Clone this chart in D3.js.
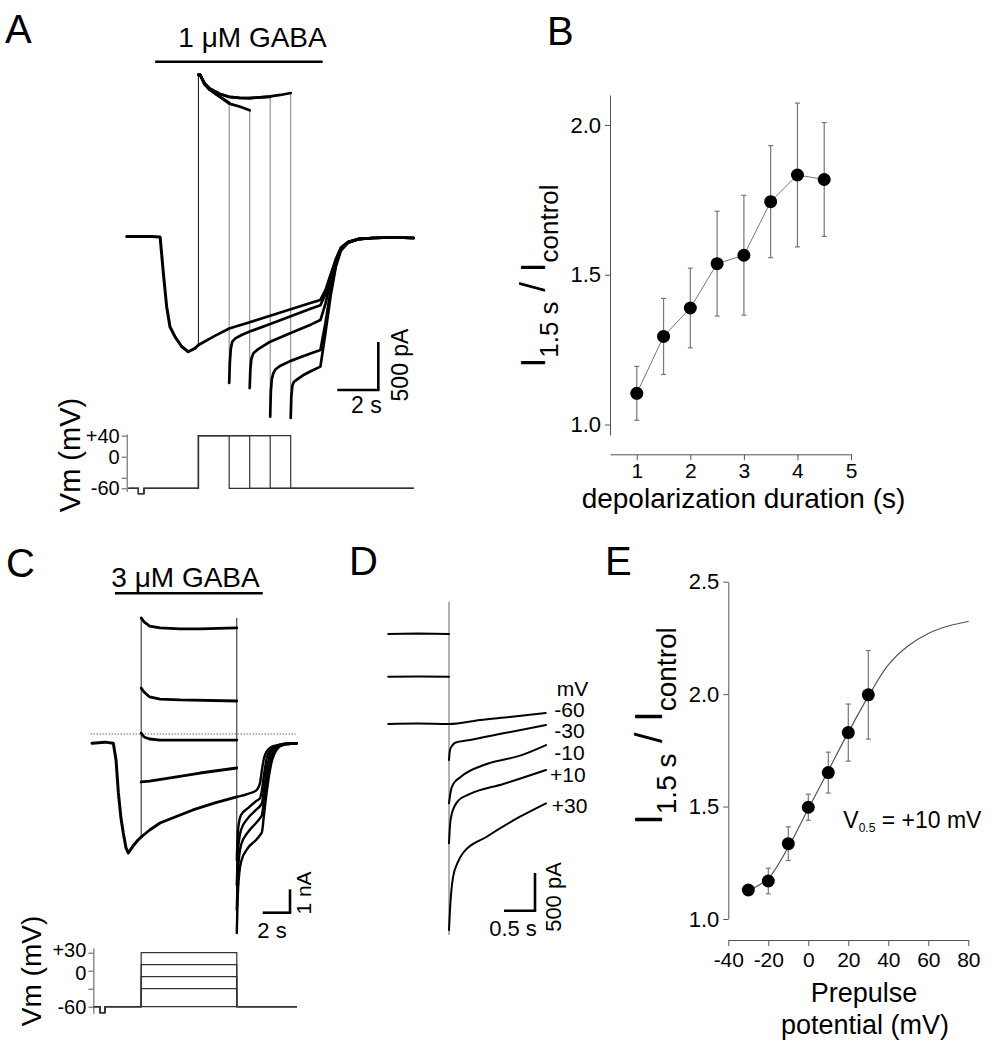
<!DOCTYPE html>
<html>
<head>
<meta charset="utf-8">
<script src="https://cdn.jsdelivr.net/npm/d3@7/dist/d3.min.js"></script>
<style>
  html,body{margin:0;padding:0;background:#fff;}
  svg{display:block;}
  text{font-family:"Liberation Sans",Arial,Helvetica,sans-serif;fill:#000;}
</style>
</head>
<body>
<svg id="fig" width="1005" height="1050"></svg>
<script>
// ======================= DATA =======================
// ---- Panel A : 1 uM GABA, time (s) / current (pA)
const aGabaOn = 1.39, aGabaOff = 9.56;
const aPreT = [0, 0.6, 1.2, 1.63, 1.79, 1.95, 2.11, 2.36, 2.68, 3.0, 3.33, 3.5];
const aPreI = [15, 15, 15, 10, -370, -715, -925, -1030, -1130, -1185, -1150, -1115];
const aCtrlT = [3.5, 4.3, 5.0, 6.0, 7.0, 8.0, 9.0, 9.45];
const aCtrlI = [-1115, -1020, -943, -877, -810, -743, -675, -645];
const aStepStart = 3.5;
const aStepEnds = [5, 6, 7, 8];
const aOnT = [
  [3.5, 3.58, 3.8, 4.06, 4.55, 5.0],
  [3.5, 3.58, 3.8, 4.06, 4.55, 5.0, 5.5, 6.0],
  [3.5, 3.58, 3.8, 4.06, 4.55, 5.0, 5.5, 6.0, 6.5, 7.0],
  [3.5, 3.58, 3.8, 4.06, 4.55, 5.0, 5.5, 6.0, 6.5, 7.0, 7.5, 8.0]
];
const aOnI = [
  [1700, 1700, 1600, 1542, 1470, 1410],
  [1700, 1700, 1600, 1542, 1470, 1400, 1370, 1330],
  [1700, 1700, 1610, 1555, 1500, 1470, 1460, 1458, 1465, 1470],
  [1700, 1700, 1610, 1555, 1500, 1470, 1460, 1458, 1465, 1475, 1490, 1510]
];
const aTailT = [
  [5.0, 5.03, 5.08, 5.15, 5.3, 5.6, 6, 7, 8, 9, 9.45],
  [6.0, 6.03, 6.08, 6.18, 6.4, 7, 8, 9, 9.45],
  [7.0, 7.03, 7.08, 7.15, 7.25, 7.5, 8, 8.5, 9, 9.45],
  [8.0, 8.03, 8.08, 8.15, 8.3, 8.6, 9, 9.45]
];
const aTailI = [
  [-1510, -1300, -1150, -1080, -1045, -1010, -975, -895, -815, -735, -700],
  [-1563, -1380, -1260, -1200, -1160, -1080, -990, -900, -855],
  [-1861, -1600, -1470, -1410, -1370, -1330, -1280, -1240, -1200, -1167],
  [-1875, -1650, -1540, -1500, -1475, -1430, -1385, -1340]
];
const aWashT = [9.45, 9.7, 9.95, 10.2, 10.45, 10.8, 11.3, 12, 13, 14];
const aWashCtrl = [-645, -540, -380, -220, -100, -40, -10, 0, 5, 0];
const aWashI = [
  [-700, -580, -400, -230, -105, -42, -10, 0, 5, 0],
  [-855, -680, -450, -250, -110, -45, -12, 0, 5, 0],
  [-1167, -880, -540, -280, -120, -48, -12, 0, 5, 0],
  [-1340, -980, -600, -300, -130, -50, -14, 0, 5, 0]
];
// Vm protocol A (mV)
const aVmHold = -60, aVmPulse = -70, aVmStep = 40;
const aVmPulseT = [0.57, 0.84];
const aVmEnd = 14;
const aVmTicks = [40, 0, -40, -60];
const aVmTickLabels = ["+40", "0", "", "-60"];

// ---- Panel B
const bX = [1, 1.5, 2, 2.5, 3, 3.5, 4, 4.5];
const bY = [1.104, 1.294, 1.389, 1.537, 1.565, 1.744, 1.833, 1.818];
const bErr = [0.09, 0.127, 0.133, 0.175, 0.2, 0.187, 0.24, 0.19];
const bXTicks = [1, 2, 3, 4, 5];
const bYTicks = [1.0, 1.5, 2.0];

// ---- Panel C : 3 uM GABA, time (s) / current (pA)
const cGabaOn = 1.68, cGabaOff = 12.5;
const cDottedLevel = 400;
const cPreT = [0, 0.95, 1.56, 1.76, 1.93, 2.12, 2.29, 2.49, 2.66, 3.0, 3.37, 3.6];
const cPreI = [0, 50, 0, -720, -2130, -3210, -3850, -4490, -4710, -4410, -4150, -4020];
const cStepStart = 3.6, cStepEnd = 10.6;
const cStepV = [-60, -30, -10, 10, 30];
const cOnT = [
  [3.6, 4.22, 4.98, 6.08, 7.39, 9.0, 10.6],
  [3.6, 4.22, 6.08, 7.91, 10.6],
  [3.6, 3.81, 4.22, 4.98, 6.44, 10.6],
  [3.6, 3.81, 4.22, 4.98, 6.44, 10.6],
  [3.6, 3.81, 4.22, 4.98, 6.44, 7.91, 10.6]
];
const cOnI = [
  [-4020, -3720, -3420, -3160, -2860, -2560, -2300],
  [-1660, -1620, -1450, -1275, -1060],
  [440, 270, 185, 140, 140, 140],
  [2370, 2200, 1990, 1900, 1860, 1815],
  [5380, 5210, 5030, 4950, 4910, 4910, 4950]
];
const cPostT = [10.6, 10.69, 10.91, 11.42, 12.01, 12.3, 12.44, 12.59, 12.81, 13.1, 13.5, 14.0, 15.0];
const cPostI = [
  [-2300, -2290, -2260, -2170, -2030, -1700, -1140, -640, -330, -170, -90, -35, 0],
  [-5010, -3720, -3080, -2780, -2480, -2350, -2000, -1360, -590, -245, -115, -30, 0],
  [-6080, -4580, -3720, -3210, -2860, -2690, -2560, -2000, -1060, -370, -160, -30, 0],
  [-7155, -5440, -4365, -3810, -3420, -3210, -3080, -2430, -1575, -630, -200, -70, 0],
  [-8140, -6300, -5090, -4490, -4150, -3940, -3810, -3080, -2000, -930, -290, -70, 0]
];
const cVmHold = -60, cVmPulse = -70;
const cVmPulseT = [0.59, 0.95];
const cVmStart = 0.1, cVmEnd = 15;
const cVmTicks = [30, 0, -30, -60];
const cVmTickLabels = ["+30", "0", "", "-60"];

// ---- Panel D : tail currents, time (s) / current (pA)
const dPreT = [-0.98, -0.5, 0];
const dPreI = [[1194, 1200, 1194], [627, 630, 627]];
const dLabels = ["-60", "-30", "-10", "+10", "+30"];
const dTailT = [
  [-0.98, -0.5, 0, 0.5, 0.98, 1.56],
  [0, 0.016, 0.048, 0.097, 0.339, 0.876, 1.565],
  [0, 0.032, 0.069, 0.177, 0.608, 1.145, 1.565],
  [0, 0.016, 0.044, 0.15, 0.339, 0.876, 1.565],
  [0, 0.016, 0.032, 0.065, 0.145, 0.226, 0.608, 1.145, 1.565]
];
const dTailI = [
  [0, 5, 0, 53, 93, 146],
  [-477, -345, -292, -248, -212, -124, -13],
  [-1052, -875, -796, -708, -531, -420, -279],
  [-1582, -1349, -1194, -1017, -928, -796, -610],
  [-2732, -2467, -2268, -2029, -1830, -1711, -1495, -1230, -1052]
];
const dStepMark = [1622, -2798];

// ---- Panel E
const eX = [-30, -20, -10, 0, 10, 20, 30];
const eY = [1.129, 1.169, 1.335, 1.497, 1.651, 1.829, 1.997];
const eErr = [0.02, 0.057, 0.075, 0.058, 0.091, 0.127, 0.197];
const eFitX = [-27.5, -20, -10, 0, 10, 20, 30, 40, 50, 60, 70, 80];
const eFitY = [1.137, 1.18, 1.32, 1.49, 1.66, 1.83, 1.99, 2.13, 2.215, 2.27, 2.303, 2.323];
const eXTicks = [-40, -20, 0, 20, 40, 60, 80];
const eYTicks = [1.0, 1.5, 2.0, 2.5];

// ======================= DRAWING =======================
const svg = d3.select('#fig');
const zip = (a, b) => a.map((v, i) => [v, b[i]]);
const AX = '#555';

function trace(g, pts, x, y, w, col, curve) {
  const ln = d3.line().x(d => x(d[0])).y(d => y(d[1]));
  if (curve) ln.curve(curve);
  return g.append('path').attr('d', ln(pts)).attr('fill', 'none')
    .attr('stroke', col).attr('stroke-width', w)
    .attr('stroke-linejoin', 'round').attr('stroke-linecap', 'round');
}
function seg(g, x1, y1, x2, y2, w, col) {
  return g.append('line').attr('x1', x1).attr('y1', y1).attr('x2', x2).attr('y2', y2)
    .attr('stroke', col).attr('stroke-width', w);
}
function txt(g, x, y, s, size, anchor) {
  return g.append('text').attr('x', x).attr('y', y).attr('text-anchor', anchor || 'start')
    .style('font-size', size + 'px').text(s);
}
function rtxt(g, x, y, s, size) {
  return g.append('text').attr('transform', `translate(${x},${y}) rotate(-90)`)
    .attr('text-anchor', 'middle').style('font-size', size + 'px').text(s);
}
function styleAxis(sel, size) {
  sel.attr('font-size', size);
  sel.select('.domain').attr('stroke', AX).attr('stroke-width', 1);
  sel.selectAll('.tick line').attr('stroke', AX).attr('stroke-width', 1);
  sel.selectAll('.tick text').style('font-size', size + 'px')
    .style('font-family', '"Liberation Sans",Arial,sans-serif').attr('fill', '#000');
}
function ratioLabel(g, x, y, big, small) {
  const t = g.append('text').attr('transform', `translate(${x},${y}) rotate(-90)`)
    .attr('text-anchor', 'middle').style('font-size', big + 'px');
  t.append('tspan').text('I');
  t.append('tspan').attr('dy', small * 0.5).style('font-size', small + 'px').text('1.5 s');
  t.append('tspan').attr('dy', -small * 0.5).text(' / I');
  t.append('tspan').attr('dy', small * 0.5).style('font-size', small + 'px').text('control');
}

// Panel letters
const letters = svg.append('g');
txt(letters, 5, 43, 'A', 40);
txt(letters, 547, 45, 'B', 40);
txt(letters, 6, 577, 'C', 40);
txt(letters, 349, 575, 'D', 40);
txt(letters, 605, 575, 'E', 40);

// ---------------- Panel A ----------------
{
  const g = svg.append('g');
  const xA = d3.scaleLinear().domain([0, 14]).range([126.7, 126.7 + 14 * 20.5]);
  const yA = d3.scaleLinear().domain([0, 1000]).range([238, 142]);
  seg(g, xA(aGabaOn), 61.7, xA(aGabaOff), 61.7, 2.6, '#000');
  txt(g, 252.5, 46.7, '1 μM GABA', 28, 'middle');
  seg(g, xA(aStepStart), yA(aPreI[aPreI.length - 1]), xA(aStepStart), yA(aOnI[0][0]), 1.1, '#222');
  aStepEnds.forEach((te, k) => {
    const on = aOnI[k];
    seg(g, xA(te), yA(on[on.length - 1]), xA(te), yA(aTailI[k][0]), 1.1, '#8a8a8a');
  });
  trace(g, zip(aPreT, aPreI), xA, yA, 3, '#000');
  trace(g, zip(aCtrlT, aCtrlI).concat(zip(aWashT, aWashCtrl).slice(1)), xA, yA, 2.7, '#000');
  aStepEnds.forEach((te, k) => {
    trace(g, zip(aOnT[k], aOnI[k]), xA, yA, 2.7, '#000');
    trace(g, zip(aTailT[k], aTailI[k]).concat(zip(aWashT, aWashI[k]).slice(1)), xA, yA, 2.7, '#000');
  });
  const cx = 378.3, cy = 390;
  const sbW = xA(2) - xA(0), sbH = yA(0) - yA(500);
  seg(g, cx - sbW, cy, cx + 1.2, cy, 2.6, '#000');
  seg(g, cx, cy, cx, cy - sbH, 2.6, '#000');
  txt(g, cx - 12, 413.3, '2 s', 23, 'middle');
  rtxt(g, 408, 365, '500 pA', 23);

  const yAv = d3.scaleLinear().domain([-60, 40]).range([488.3, 435.6]);
  aStepEnds.forEach(te => {
    const pts = [[0.08, aVmHold], [aVmPulseT[0], aVmHold], [aVmPulseT[0], aVmPulse], [aVmPulseT[1], aVmPulse],
      [aVmPulseT[1], aVmHold], [aStepStart, aVmHold], [aStepStart, aVmStep], [te, aVmStep], [te, aVmHold], [aVmEnd, aVmHold]];
    trace(g, pts, xA, yAv, 1.2, '#333').attr('stroke-linecap', 'butt').attr('stroke-linejoin', 'miter');
  });
  const yAvAx = yAv.copy().domain([-66, 43]).range([yAv(-66), yAv(43)]);
  const ax = g.append('g').attr('transform', `translate(${xA(0)},0)`)
    .call(d3.axisLeft(yAvAx).tickValues(aVmTicks).tickSize(5).tickSizeOuter(0).tickPadding(2)
      .tickFormat((d, i) => aVmTickLabels[i]));
  styleAxis(ax, 20);
  rtxt(g, 80, 455, 'Vm (mV)', 29);
}

// ---------------- Panel B ----------------
{
  const g = svg.append('g');
  const xB = d3.scaleLinear().domain([0.5, 5]).range([610, 851]);
  const yB = d3.scaleLinear().domain([0.965, 2.1]).range([435, 95]);
  const ay = g.append('g').attr('transform', 'translate(610,0)')
    .call(d3.axisLeft(yB).tickValues(bYTicks).tickFormat(d3.format('.1f')).tickSize(5).tickSizeOuter(0).tickPadding(4));
  styleAxis(ay, 22);
  const axx = g.append('g').attr('transform', 'translate(0,454.3)')
    .call(d3.axisBottom(xB).tickValues(bXTicks).tickFormat(d => String(d)).tickSize(6).tickSizeOuter(0).tickPadding(3));
  styleAxis(axx, 21);
  bX.forEach((x, i) => {
    const px = xB(x), t = yB(bY[i] + bErr[i]), b = yB(bY[i] - bErr[i]);
    seg(g, px, t, px, b, 1.2, '#777');
    seg(g, px - 2.5, t, px + 2.5, t, 1.2, '#777');
    seg(g, px - 2.5, b, px + 2.5, b, 1.2, '#777');
  });
  trace(g, zip(bX, bY), xB, yB, 1, '#777');
  g.selectAll('circle.b').data(zip(bX, bY)).enter().append('circle')
    .attr('cx', d => xB(d[0])).attr('cy', d => yB(d[1])).attr('r', 6.5).attr('fill', '#000');
  txt(g, 743.5, 508, 'depolarization duration (s)', 28, 'middle');
  ratioLabel(g, 545, 276, 35, 26);
}

// ---------------- Panel C ----------------
{
  const g = svg.append('g');
  const xC = d3.scaleLinear().domain([0, 15]).range([92, 92 + 15 * 13.66]);
  const yC = d3.scaleLinear().domain([0, 1000]).range([743.3, 720]);
  seg(g, xC(cGabaOn), 593.3, xC(cGabaOff), 593.3, 2.4, '#000');
  txt(g, 185.5, 586.7, '3 μM GABA', 28, 'middle');
  seg(g, xC(-0.1), yC(cDottedLevel), xC(14.9), yC(cDottedLevel), 1, '#444').attr('stroke-dasharray', '1.2,1.8');
  const topI = cOnI[cOnI.length - 1][0];
  seg(g, xC(cStepStart), yC(topI), xC(cStepStart), yC(cPreI[cPreI.length - 1]), 1, '#222');
  seg(g, xC(cStepEnd), yC(topI), xC(cStepEnd), yC(cPostI[cPostI.length - 1][0]), 1, '#222');
  trace(g, zip(cPreT, cPreI), xC, yC, 3, '#000');
  cStepV.forEach((v, k) => {
    trace(g, zip(cOnT[k], cOnI[k]), xC, yC, 2.8, '#000');
    trace(g, zip(cPostT, cPostI[k]), xC, yC, 2.4, '#000', d3.curveMonotoneX);
  });
  const cx = 290, cy = 912.7;
  const sbW = xC(2) - xC(0), sbH = yC(0) - yC(1000);
  seg(g, cx - sbW, cy, cx + 1.2, cy, 2.6, '#000');
  seg(g, cx, cy, cx, cy - sbH, 2.6, '#000');
  txt(g, 272, 938, '2 s', 22, 'middle');
  rtxt(g, 311, 893, '1 nA', 21);
  const yCv = d3.scaleLinear().domain([-60, 30]).range([1006.7, 952.7]);
  cStepV.forEach(v => {
    const pts = [[cVmStart, cVmHold], [cVmPulseT[0], cVmHold], [cVmPulseT[0], cVmPulse], [cVmPulseT[1], cVmPulse],
      [cVmPulseT[1], cVmHold], [cStepStart, cVmHold], [cStepStart, v], [cStepEnd, v], [cStepEnd, cVmHold], [cVmEnd, cVmHold]];
    trace(g, pts, xC, yCv, 1.2, '#333').attr('stroke-linecap', 'butt').attr('stroke-linejoin', 'miter');
  });
  const yCvAx = yCv.copy().domain([-71, 38]).range([yCv(-71), yCv(38)]);
  const ax = g.append('g').attr('transform', `translate(${xC(cVmStart)},0)`)
    .call(d3.axisLeft(yCvAx).tickValues(cVmTicks).tickSize(5).tickSizeOuter(0).tickPadding(2)
      .tickFormat((d, i) => cVmTickLabels[i]));
  styleAxis(ax, 20);
  // spread the two crowded upper labels slightly (pixel nudges)
  ax.selectAll('.tick text').attr('y', d => d === 30 ? -2.5 : (d === 0 ? 2.5 : 0));
  rtxt(g, 41, 971, 'Vm (mV)', 28);
}

// ---------------- Panel D ----------------
{
  const g = svg.append('g');
  const xD = d3.scaleLinear().domain([0, 1]).range([449, 511]);
  const yD = d3.scaleLinear().domain([0, 1000]).range([724, 648.6]);
  seg(g, xD(0), yD(dStepMark[0]), xD(0), yD(dStepMark[1]), 1.3, '#888');
  dPreI.forEach(arr => trace(g, zip(dPreT, arr), xD, yD, 2, '#000'));
  dTailT.forEach((tt, k) => trace(g, zip(tt, dTailI[k]), xD, yD, 2, '#000', d3.curveMonotoneX));
  const labY = [716.7, 737.5, 759.5, 782, 813.3];
  const labX = [554.3, 554.3, 554.3, 550, 551.7];
  txt(g, 556.7, 695.5, 'mV', 21);
  dLabels.forEach((s, k) => txt(g, labX[k], labY[k], s, 21));
  const cx = 535, cy = 910.7;
  const sbW = xD(0.5) - xD(0), sbH = yD(0) - yD(500);
  seg(g, cx - sbW, cy, cx + 1.2, cy, 2.6, '#000');
  seg(g, cx, cy, cx, cy - sbH, 2.6, '#000');
  txt(g, 513, 936, '0.5 s', 22, 'middle');
  rtxt(g, 561, 897, '500 pA', 22);
}

// ---------------- Panel E ----------------
{
  const g = svg.append('g');
  const xE = d3.scaleLinear().domain([-40, 80]).range([728.3, 968.3]);
  const yE = d3.scaleLinear().domain([1, 2.5]).range([919, 581.7]);
  const ay = g.append('g').attr('transform', 'translate(728.3,0)')
    .call(d3.axisLeft(yE).tickValues(eYTicks).tickFormat(d3.format('.1f')).tickSize(5).tickSizeOuter(0).tickPadding(4));
  styleAxis(ay, 22);
  const axx = g.append('g').attr('transform', 'translate(0,940)')
    .call(d3.axisBottom(xE).tickValues(eXTicks).tickFormat(d => String(d)).tickSize(6).tickSizeOuter(0).tickPadding(6));
  styleAxis(axx, 21);
  trace(g, zip(eFitX, eFitY), xE, yE, 1.2, '#555', d3.curveCatmullRom.alpha(0.5));
  eX.forEach((x, i) => {
    const px = xE(x), t = yE(eY[i] + eErr[i]), b = yE(eY[i] - eErr[i]);
    seg(g, px, t, px, b, 1.2, '#777');
    seg(g, px - 2.5, t, px + 2.5, t, 1.2, '#777');
    seg(g, px - 2.5, b, px + 2.5, b, 1.2, '#777');
  });
  g.selectAll('circle.e').data(zip(eX, eY)).enter().append('circle')
    .attr('cx', d => xE(d[0])).attr('cy', d => yE(d[1])).attr('r', 6.5).attr('fill', '#000');
  txt(g, 864, 1002, 'Prepulse', 27, 'middle');
  txt(g, 865, 1034, 'potential (mV)', 27, 'middle');
  const t = g.append('text').attr('x', 843.3).attr('y', 828.3).style('font-size', '23px');
  t.append('tspan').text('V');
  t.append('tspan').attr('dy', 4).style('font-size', '12px').text('0.5');
  t.append('tspan').attr('dy', -4).text(' = +10 mV');
  ratioLabel(g, 662, 726, 38, 28);
}
</script>
</body>
</html>
